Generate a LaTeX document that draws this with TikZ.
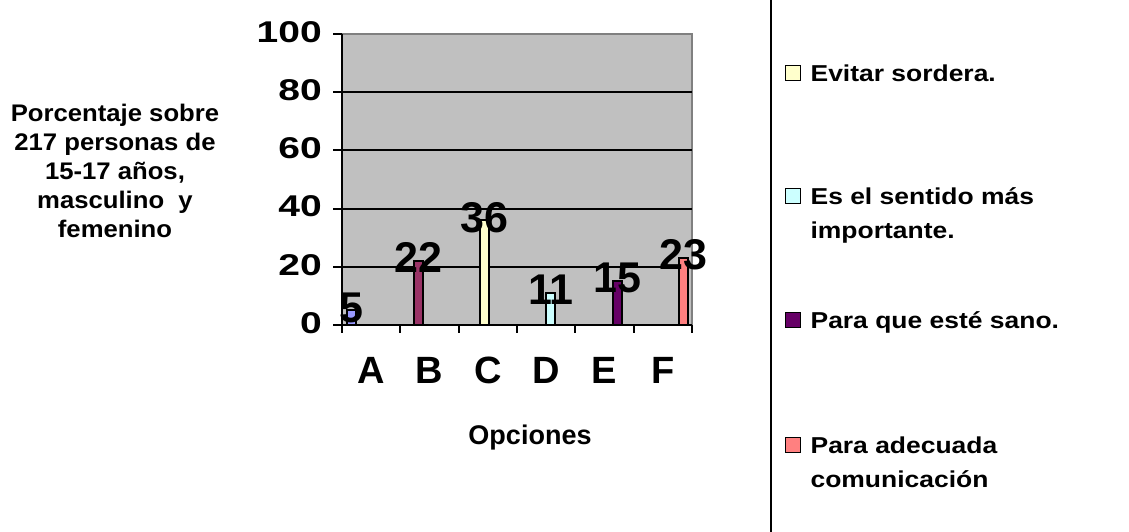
\documentclass[tikz,border=0pt]{standalone}
\usepackage{fontspec}
\setmainfont{Liberation Sans}
\newfontfamily\legendfont[FakeStretch=1.15]{Liberation Sans Bold}
\newfontfamily\titlefont[FakeStretch=1.07]{Liberation Sans Bold}
\newfontfamily\tickfont[FakeStretch=1.3]{Liberation Sans Bold}
\usepackage{xcolor}
\usepackage{tikz}
\usetikzlibrary{positioning}
\definecolor{plotgray}{RGB}{192,192,192}
\definecolor{framegray}{RGB}{128,128,128}
\definecolor{serieA}{RGB}{153,153,255}
\definecolor{serieB}{RGB}{153,51,102}
\definecolor{serieC}{RGB}{255,255,204}
\definecolor{serieD}{RGB}{204,255,255}
\definecolor{serieE}{RGB}{102,0,102}
\definecolor{serieF}{RGB}{255,128,128}

\begin{document}
\begin{tikzpicture}[
    x=1pt, y=-1pt,
    ticklabel/.style={anchor=east, inner sep=0pt, font=\fontsize{30}{30}\selectfont\tickfont},
    catlabel/.style={inner sep=0pt, font=\fontsize{38}{38}\selectfont\bfseries},
    valuelabel/.style={inner sep=0pt, font=\fontsize{43}{43}\selectfont\bfseries},
    axistitle/.style={inner sep=0pt, align=center, font=\fontsize{24}{29}\selectfont\titlefont},
    bar/.style={draw=black, line width=2pt},
    legendbox/.style={draw=black, line width=1.8pt, minimum size=15pt, inner sep=0pt},
    legendtext/.style={inner sep=0pt, align=left, font=\fontsize{23}{34}\selectfont\legendfont}
]
    \useasboundingbox (0,0) rectangle (1129,532);

    % plot area
    \fill[plotgray] (342,34) rectangle (692,325);
    \draw[framegray, line width=1.5pt] (342,34) -- (692,34) -- (692,325);
    \foreach \v in {20,40,60,80}
        \draw[line width=2pt] (342,{325-\v*2.91}) -- (692,{325-\v*2.91});

    % axes and ticks
    \draw[line width=2.5pt] (342,34) -- (342,325) -- (692,325);
    \foreach \v in {0,20,...,100} {
        \draw[line width=2pt] (333,{325-\v*2.91}) -- (342,{325-\v*2.91});
        \node[ticklabel] (tick\v) at (322,{323-\v*2.91}) {\v};
    }
    \foreach \i in {0,...,6}
        \draw[line width=2pt] ({342+58.33*\i},325) -- ++(0,8);

    % bars
    \foreach \c/\v/\col [count=\i from 0] in {A/5/serieA, B/22/serieB, C/36/serieC, D/11/serieD, E/15/serieE, F/23/serieF} {
        \draw[bar, fill=\col] ({351.7+66.4*\i-4.5},325) rectangle ++(9,{-\v*2.91});
        \node[valuelabel] (val\c) at ({351.7+66.4*\i},{325-\v*2.91-3}) {\v};
        \node[catlabel] (cat\c) at ({342+58.33*(\i+0.5)},370) {\c};
    }

    % titles
    \node[axistitle] (ytitle) at (115,171) {Porcentaje sobre\\217 personas de\\15-17 años,\\masculino \ y\\femenino};
    \node[font=\fontsize{27}{27}\selectfont\bfseries, inner sep=0pt] (xtitle) at (530,438) {Opciones};

    % legend
    \draw[line width=2pt] (771,0) -- (771,532);
    \node[legendbox, fill=serieC] (keyC) at (793,73) {};
    \node[legendbox, fill=serieD] (keyD) at (793,196) {};
    \node[legendbox, fill=serieE] (keyE) at (793,320) {};
    \node[legendbox, fill=serieF] (keyF) at (793,445) {};
    \node[legendtext, right=9pt of keyC.north east, anchor=north west] (textC) {Evitar sordera.};
    \node[legendtext, right=9pt of keyD.north east, anchor=north west] (textD) {Es el sentido más\\importante.};
    \node[legendtext, right=9pt of keyE.north east, anchor=north west] (textE) {Para que esté sano.};
    \node[legendtext, right=9pt of keyF.north east, anchor=north west] (textF) {Para adecuada\\comunicación};
\end{tikzpicture}
\end{document}
